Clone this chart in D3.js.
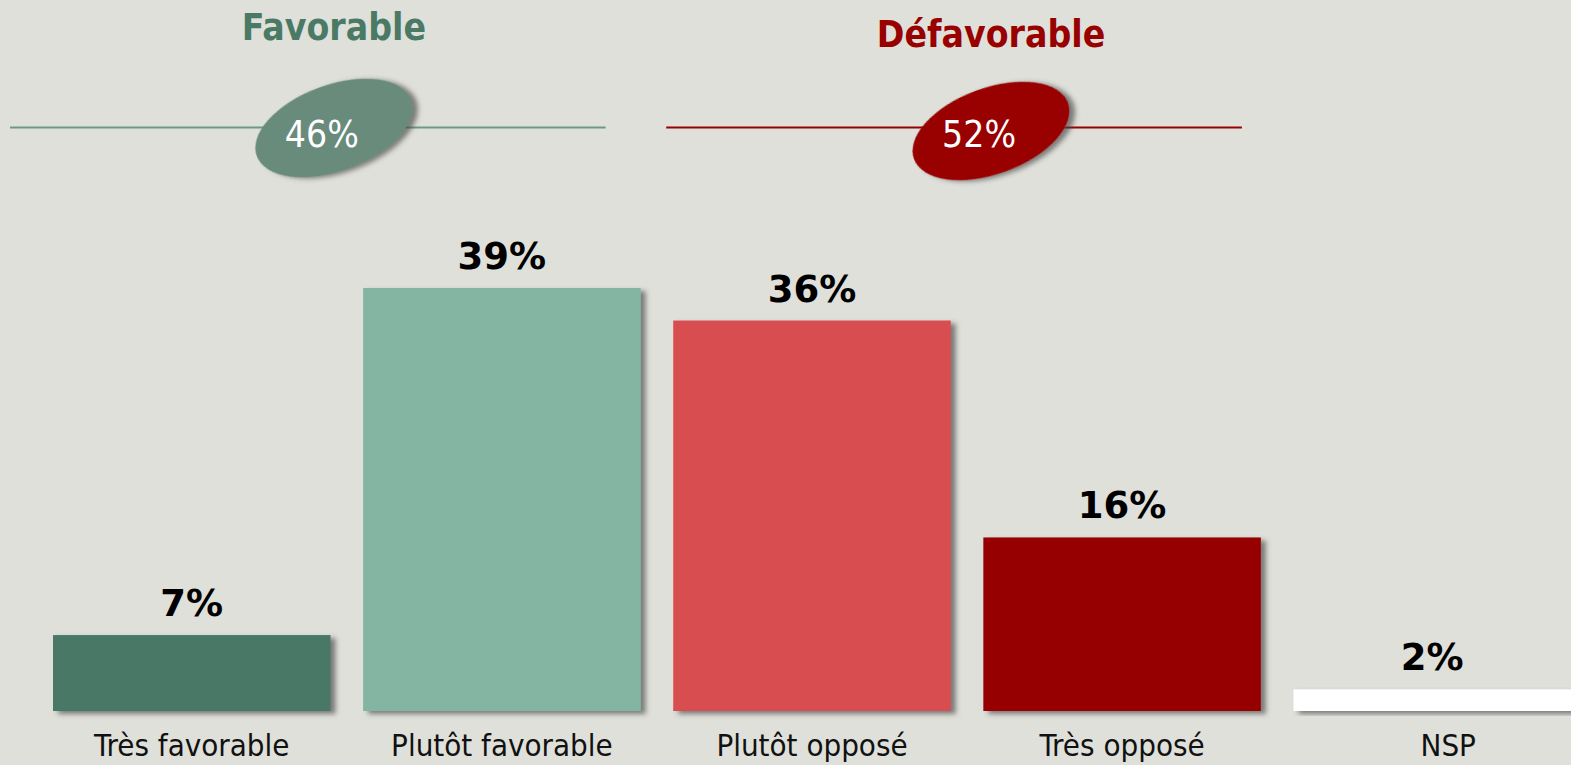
<!DOCTYPE html>
<html>
<head>
<meta charset="utf-8">
<script src="https://cdn.jsdelivr.net/npm/d3@7"></script>
<style>
  html, body { margin: 0; padding: 0; background: #dfe0da; overflow: hidden; }
  svg { display: block; }
</style>
</head>
<body>
<div id="chart"></div>
<script>
// data
const categories = ["Très favorable", "Plutôt favorable", "Plutôt opposé", "Très opposé", "NSP"];
const values = [7, 39, 36, 16, 2];
const groups = ["Favorable", "Défavorable"];
const groupTotals = [46, 52];
const groupMembers = [[0, 1], [2, 3]];

const barColors = ["#497866", "#83b5a2", "#d84d4f", "#970000", "#ffffff"];
const groupColors = ["#4a7a66", "#990000"];
const lineColors = ["#6b9a86", "#990000"];
const ovalColors = ["#678b7b", "#990000"];

const width = 1571,
    height = 765,
    baseline = 711;

const svg = d3.select("#chart")
    .append("svg")
    .attr("width", width)
    .attr("height", height)
    .attr("viewBox", [0, 0, width, height]);

const defs = svg.append("defs");
defs.append("filter")
    .attr("id", "shadow")
    .attr("x", "-10%").attr("y", "-10%")
    .attr("width", "130%").attr("height", "130%")
    .append("feDropShadow")
    .attr("dx", 5).attr("dy", 3)
    .attr("stdDeviation", 2.5)
    .attr("flood-color", "#444")
    .attr("flood-opacity", 0.65);

const x = d3.scaleBand()
    .domain(categories)
    .range([53, 1571])
    .paddingInner(0.105)
    .paddingOuter(0);

const y = d3.scaleLinear()
    .domain([0, 39])
    .range([baseline, 288]);

// bars
const bar = svg.selectAll(".bar")
    .data(categories)
    .join("g")
    .attr("class", "bar");

bar.append("rect")
    .attr("x", d => x(d))
    .attr("width", (d, i) => i === categories.length - 1 ? x.bandwidth() + 20 : x.bandwidth())
    .attr("y", (d, i) => y(values[i]))
    .attr("height", (d, i) => y(0) - y(values[i]))
    .attr("fill", (d, i) => barColors[i])
    .attr("filter", "url(#shadow)");

bar.append("text")
    .text((d, i) => values[i] + "%")
    .attr("x", d => x(d) + x.bandwidth() / 2)
    .attr("y", (d, i) => y(values[i]) - 19)
    .attr("text-anchor", "middle")
    .style("font-family", "DejaVu Sans")
    .style("font-weight", "bold")
    .style("font-size", "37px")
    .style("fill", "#000");

// category labels
const xAxis = g => g
    .attr("transform", `translate(0,${baseline})`)
    .call(d3.axisBottom(x).tickSize(0).tickPadding(0))
    .call(g => g.select(".domain").remove())
    .call(g => g.selectAll("text")
        .attr("dy", null)
        .attr("y", 45)
        .attr("dx", (d, i) => i === categories.length - 1 ? 16 : 0)
        .style("font-family", "DejaVu Sans Condensed, DejaVu Sans")
        .style("font-size", "31px")
        .style("fill", "#111"));

svg.append("g").call(xAxis);

// group headers with line and oval
const lineOffsets = [[-43, -35], [-7, -19]];
const centerOffsets = [-13, 24];
const headerY = [40, 47];

groups.forEach((name, gi) => {
    const first = categories[groupMembers[gi][0]];
    const last = categories[groupMembers[gi][1]];
    const x0 = x(first), x1 = x(last) + x.bandwidth();
    const cx = (x0 + x1) / 2 + centerOffsets[gi];
    const g = svg.append("g");

    g.append("text")
        .text(name)
        .attr("x", cx)
        .attr("y", headerY[gi])
        .attr("text-anchor", "middle")
        .style("font-family", "DejaVu Sans Condensed, DejaVu Sans")
        .style("font-weight", "bold")
        .style("font-size", "37px")
        .style("fill", groupColors[gi]);

    g.append("line")
        .attr("x1", x0 + lineOffsets[gi][0])
        .attr("x2", x1 + lineOffsets[gi][1])
        .attr("y1", 127.5)
        .attr("y2", 127.5)
        .attr("stroke", lineColors[gi])
        .attr("stroke-width", 2);

    const cy = 128 + gi * 3;
    g.append("ellipse")
        .attr("cx", 0).attr("cy", 0)
        .attr("rx", 82).attr("ry", 43)
        .attr("transform", `translate(${cx},${cy}) rotate(-20)`)
        .attr("fill", ovalColors[gi])
        .attr("filter", "url(#shadow)");

    g.append("text")
        .text(groupTotals[gi] + "%")
        .attr("x", cx - 12)
        .attr("y", 147)
        .attr("text-anchor", "middle")
        .style("font-family", "DejaVu Sans Condensed, DejaVu Sans")
        .style("font-size", "37px")
        .style("fill", "#fff");
});
</script>
</body>
</html>
